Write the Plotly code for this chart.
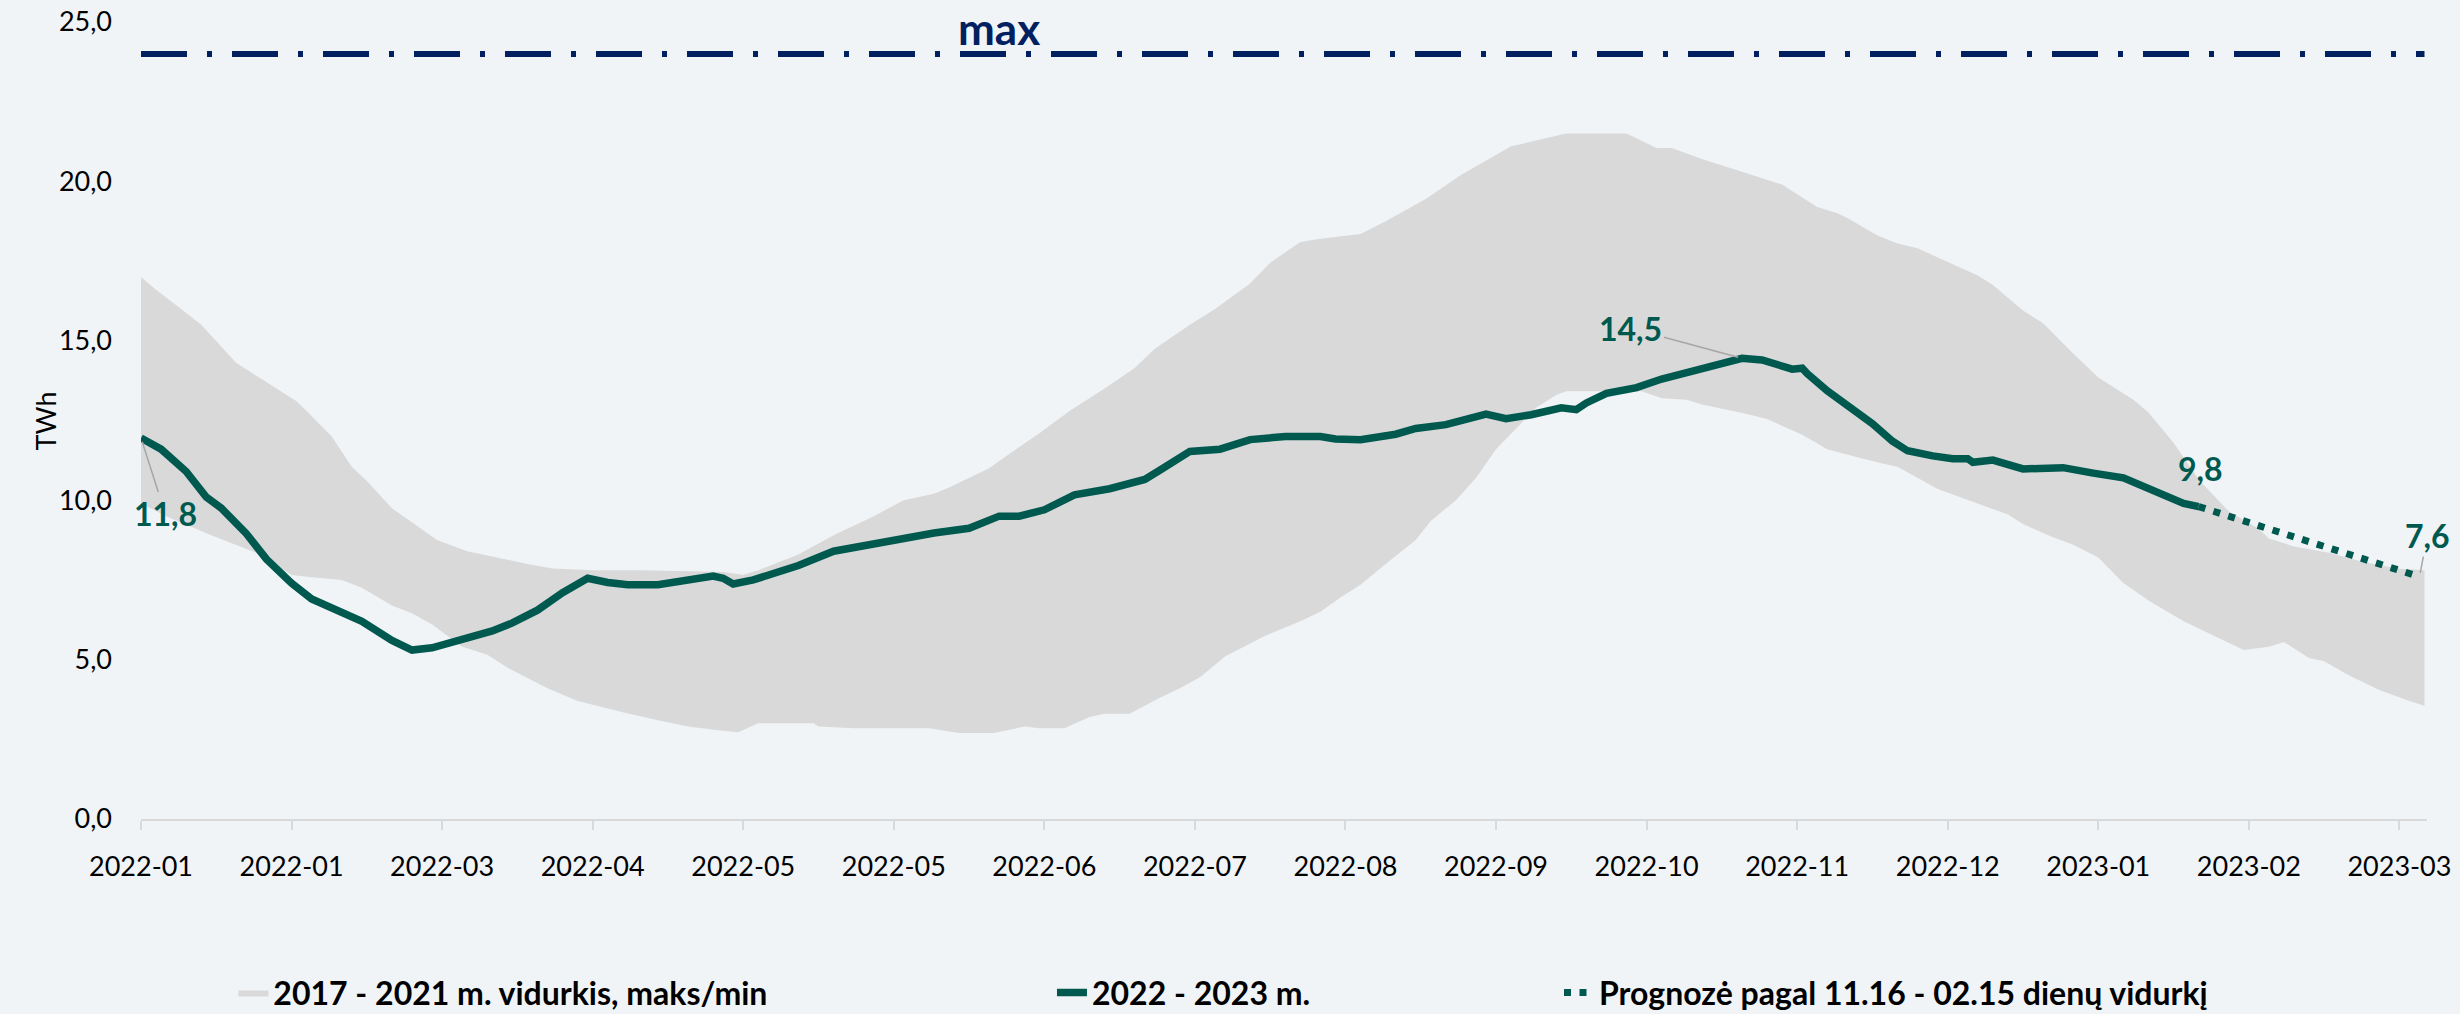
import pandas as pd
import plotly.graph_objects as go

START = "2022-01-01"

# ---- data (days counted from 2022-01-01) ----
band_max_days = [0, 3, 8, 12, 19, 24, 31, 33, 38, 42, 45, 50, 54, 59, 65, 71, 77, 82, 90, 100,
                 116, 120, 123, 131, 138, 144, 146, 152, 158, 161, 169, 173, 179, 185, 192, 198, 202, 209, 214, 221,
                 225, 231, 235, 243, 248, 256, 263, 273, 284, 296, 302, 305, 311, 319, 327, 329, 334, 338, 340, 346,
                 350, 354, 358, 361, 366, 369, 375, 379, 385, 390, 397, 400, 405, 410, 416, 422, 424, 429, 436, 443,
                 450, 455]
band_max_vals = [17.0, 16.6, 16.0, 15.5, 14.3, 13.8, 13.1, 12.8, 12.0, 11.05, 10.6, 9.75, 9.3, 8.75, 8.4, 8.2, 8.0, 7.86, 7.8, 7.8,
                 7.75, 7.66, 7.8, 8.3, 8.9, 9.35, 9.5, 10.0, 10.2, 10.4, 11.0, 11.45, 12.1, 12.8, 13.5, 14.15, 14.75, 15.5, 16.0, 16.8,
                 17.45, 18.1, 18.2, 18.35, 18.75, 19.45, 20.2, 21.1, 21.5, 21.5, 21.05, 21.05, 20.7, 20.3, 19.9, 19.7, 19.2, 19.0, 18.85, 18.3,
                 18.05, 17.9, 17.6, 17.4, 17.05, 16.75, 15.95, 15.55, 14.6, 13.85, 13.15, 12.75, 11.8, 10.65, 9.65, 9.1, 8.8, 8.55, 8.35, 8.05,
                 7.85, 7.8]

band_min_days = [0, 5, 14, 19, 23, 30, 34, 40, 44, 50, 54, 58, 64, 69, 73, 81, 87, 96, 103, 109,
                 115, 119, 123, 134, 135, 142, 157, 163, 170, 176, 179, 184, 189, 192, 197, 203, 207, 211, 216, 224,
                 231, 235, 239, 243, 248, 254, 257, 262, 266, 270, 274, 278, 282, 284, 299, 303, 308, 311, 320, 324,
                 331, 336, 342, 347, 350, 358, 365, 372, 375, 380, 385, 390, 395, 400, 407, 415, 419, 424, 427, 432,
                 435, 440, 446, 452, 455]
band_min_vals = [9.9, 9.5, 8.9, 8.6, 8.35, 7.65, 7.58, 7.5, 7.25, 6.7, 6.45, 6.1, 5.4, 5.15, 4.75, 4.1, 3.7, 3.35, 3.1, 2.9,
                 2.78, 2.72, 3.0, 3.0, 2.9, 2.85, 2.85, 2.7, 2.7, 2.9, 2.85, 2.85, 3.2, 3.3, 3.3, 3.8, 4.1, 4.45, 5.1, 5.75,
                 6.2, 6.5, 6.95, 7.35, 8.0, 8.75, 9.35, 10.0, 10.7, 11.6, 12.25, 12.9, 13.3, 13.42, 13.42, 13.2, 13.15, 13.0, 12.7, 12.55,
                 12.05, 11.6, 11.35, 11.15, 11.05, 10.35, 9.95, 9.55, 9.25, 8.9, 8.6, 8.2, 7.4, 6.85, 6.2, 5.6, 5.3, 5.4, 5.55, 5.05,
                 4.95, 4.5, 4.05, 3.7, 3.55]

actual_days = [0, 4, 9, 13, 16, 21, 25, 30, 34, 39, 44, 50, 54, 58, 63, 70, 74, 79, 84, 89,
               93, 97, 103, 108, 114, 116, 118, 122, 127, 131, 138, 146, 152, 158, 165, 171, 175, 180, 186, 193,
               200, 203, 209, 215, 221, 228, 235, 238, 243, 250, 254, 260, 266, 268, 272, 277, 283, 286, 288, 292,
               298, 303, 308, 314, 317, 319, 323, 327, 329, 331, 332, 336, 341, 345, 349, 352, 357, 361, 364, 365,
               369, 372, 375, 383, 385, 389, 395, 400, 402, 407, 410]
actual_vals = [11.95, 11.6, 10.9, 10.1, 9.75, 8.95, 8.15, 7.4, 6.9, 6.55, 6.2, 5.6, 5.3, 5.37, 5.6, 5.9, 6.15, 6.55, 7.1, 7.55,
               7.42, 7.35, 7.35, 7.5, 7.62, 7.55, 7.37, 7.5, 7.73, 7.95, 8.4, 8.6, 8.8, 8.97, 9.12, 9.5, 9.5, 9.7, 10.17, 10.36,
               10.65, 10.94, 11.53, 11.6, 11.9, 12.0, 12.0, 11.92, 11.9, 12.07, 12.25, 12.37, 12.58, 12.7, 12.56, 12.68, 12.9, 12.84, 13.05, 13.35,
               13.53, 13.8, 14.0, 14.26, 14.4, 14.45, 14.4, 14.23, 14.11, 14.14, 13.97, 13.43, 12.84, 12.4, 11.85, 11.55, 11.39, 11.3, 11.3, 11.19,
               11.26, 11.12, 10.98, 11.02, 10.98, 10.85, 10.7, 10.37, 10.21, 9.9, 9.8]

forecast_dates = ["2023-02-15", "2023-03-01", "2023-03-15", "2023-03-31"]
forecast_vals = [9.8, 9.1, 8.4, 7.6]

MAX_LEVEL = 24.0

x_tick_step_days = 30
y_range = [0, 25]

# ---- styling ----
BG = "#F0F4F7"
BAND = "#D9D9D9"
TEAL = "#00594F"
NAVY = "#002060"
FONT = "Lato"


def to_dates(days):
    return list(pd.Timestamp(START) + pd.to_timedelta(days, unit="D"))


fig = go.Figure()

band_x = to_dates(band_max_days) + to_dates(band_min_days)[::-1]
band_y = band_max_vals + band_min_vals[::-1]
fig.add_trace(go.Scatter(
    x=band_x, y=band_y, mode="lines", fill="toself", fillcolor=BAND,
    line=dict(width=0, color=BAND), hoverinfo="skip",
    name="<b>2017 - 2021 m. vidurkis, maks/min</b>", legend="legend"))

max_x = to_dates([band_max_days[0], band_max_days[-1]])
fig.add_trace(go.Scatter(
    x=max_x, y=[MAX_LEVEL, MAX_LEVEL], mode="lines",
    line=dict(color=NAVY, width=6, dash="46px,20px,5px,20px"),
    showlegend=False, hoverinfo="skip"))

actual_x = to_dates(actual_days)
fig.add_trace(go.Scatter(
    x=actual_x, y=actual_vals, mode="lines",
    line=dict(color=TEAL, width=7.5),
    name="<b>2022 - 2023 m.</b>", legend="legend2"))

fig.add_trace(go.Scatter(
    x=forecast_dates, y=forecast_vals, mode="lines",
    line=dict(color=TEAL, width=7, dash="7px,8.5px"),
    name="<b>Prognozė pagal 11.16 - 02.15 dienų vidurkį</b>", legend="legend3"))

# ---- annotations ----
lbl_font = dict(family=FONT, size=32, color=TEAL)
peak_i = actual_vals.index(max(actual_vals))
ann = [
    dict(x=actual_x[0], y=actual_vals[0], text="<b>11,8</b>", showarrow=True, arrowhead=0,
         arrowcolor="#A6A6A6", arrowwidth=1.5, ax=24, ay=75, font=lbl_font, standoff=4),
    dict(x=actual_x[peak_i], y=actual_vals[peak_i], text="<b>14,5</b>", showarrow=True, arrowhead=0,
         arrowcolor="#A6A6A6", arrowwidth=1.5, ax=-111, ay=-30, font=lbl_font, standoff=4),
    dict(x=actual_x[-1], y=actual_vals[-1], text="<b>9,8</b>", showarrow=False,
         xshift=2, yshift=38, font=lbl_font),
    dict(x=forecast_dates[-1], y=forecast_vals[-1], text="<b>7,6</b>", showarrow=True, arrowhead=0,
         arrowcolor="#A6A6A6", arrowwidth=1.5, ax=8, ay=-41, font=lbl_font, standoff=4),
    dict(x="2022-06-21", y=MAX_LEVEL, text="<b>max</b>", showarrow=False, yanchor="bottom",
         yshift=-2, font=dict(family=FONT, size=44, color=NAVY)),
    dict(xref="paper", yref="paper", x=-0.0497, y=0.5, text="TWh", textangle=-90,
         showarrow=False, font=dict(family=FONT, size=27, color="black")),
]

leg_common = dict(orientation="h", y=-0.218, yanchor="middle", xanchor="left",
                  bgcolor="rgba(0,0,0,0)", font=dict(family=FONT, size=32, color="black"),
                  itemwidth=30)

fig.update_layout(
    width=2460, height=1014,
    margin=dict(l=141, r=33, t=22, b=195, autoexpand=False),
    paper_bgcolor=BG, plot_bgcolor=BG,
    font=dict(family=FONT, size=27, color="black"),
    separators=", ",
    annotations=ann,
    legend=dict(x=0.0404, **leg_common),
    legend2=dict(x=0.3985, **leg_common),
    legend3=dict(x=0.6203, **leg_common),
    xaxis=dict(
        type="date", automargin=False,
        range=[START, "2023-04-01 12:00"],
        tick0=START, dtick=x_tick_step_days * 86400000, tickformat="%Y-%m",
        showgrid=False, zeroline=False,
        showline=True, linecolor=BAND, linewidth=2,
        ticks="outside", ticklen=9, tickcolor=BAND, tickwidth=2,
        ticklabelstandoff=14,
        tickfont=dict(family=FONT, size=27, color="black"),
    ),
    yaxis=dict(
        range=y_range, dtick=5, tickformat=".1f", automargin=False,
        showgrid=False, zeroline=False, showline=False, ticks="",
        ticklabelstandoff=28,
        tickfont=dict(family=FONT, size=27, color="black"),
    ),
)

fig.write_html(
    "out.html",
    config={"displayModeBar": False},
    post_script="document.body.style.margin='0';document.body.style.padding='0';"
                "document.body.style.overflow='hidden';",
)
